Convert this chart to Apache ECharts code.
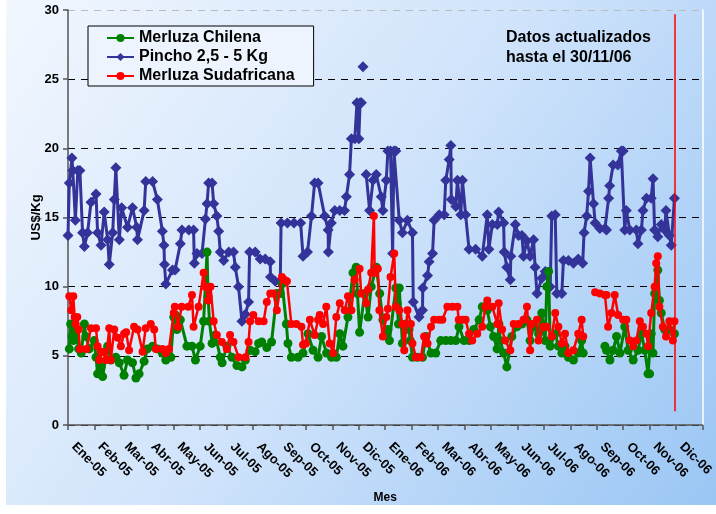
<!DOCTYPE html>
<html>
<head>
<meta charset="utf-8">
<script src="https://cdn.jsdelivr.net/npm/echarts@6/dist/echarts.min.js"></script>
<style>
html,body{margin:0;padding:0;background:#fff;}
#chart{width:716px;height:514px;}
</style>
</head>
<body>
<div id="chart"></div>
<script>
// x values are months counted from 1 Jan 2005 (0 = Ene-05)
const monthLabels = ['Ene-05','Feb-05','Mar-05','Abr-05','May-05','Jun-05','Jul-05','Ago-05','Sep-05','Oct-05','Nov-05','Dic-05',
  'Ene-06','Feb-06','Mar-06','Abr-06','May-06','Jun-06','Jul-06','Ago-06','Sep-06','Oct-06','Nov-06','Dic-06'];
const yTicks = [0, 5, 10, 15, 20, 25, 30];

const merluzaChilena = [[0.05,5.5],[0.1,7.3],[0.15,6.4],[0.2,6.1],[0.3,6.9],[0.4,5.5],[0.5,5.2],[0.62,7.3],[0.68,6.4],[0.8,5.5],[0.99,6.1],[1.06,4.9],[1.12,3.7],[1.25,4.2],[1.31,3.5],[1.5,5.7],[1.62,4.7],[1.81,4.9],[1.94,4.5],[2.12,3.6],[2.25,4.7],[2.44,4.5],[2.57,3.4],[2.69,3.7],[2.88,4.6],[3.0,5.5],[3.2,5.7],[3.38,5.5],[3.57,5.2],[3.7,4.7],[3.89,4.9],[4.0,7.8],[4.06,7.95],[4.12,6.9],[4.25,7.6],[4.5,5.7],[4.69,5.7],[4.82,4.7],[5.0,5.7],[5.13,7.5],[5.26,12.5],[5.3,9.3],[5.35,7.5],[5.45,5.9],[5.57,6.5],[5.76,4.9],[5.83,4.5],[6.01,5.7],[6.2,4.9],[6.39,4.3],[6.58,4.2],[6.71,4.7],[6.89,5.4],[7.08,5.3],[7.21,5.9],[7.33,6.0],[7.52,5.6],[7.7,6.0],[7.9,9.5],[8.03,9.5],[8.1,10.2],[8.26,7.3],[8.32,5.9],[8.45,4.9],[8.7,4.9],[8.89,5.2],[9.08,6.6],[9.27,5.4],[9.46,4.9],[9.59,6.4],[9.78,5.2],[9.97,4.9],[10.15,4.9],[10.28,6.6],[10.4,5.7],[10.59,7.8],[10.78,11.0],[10.9,11.4],[10.95,9.5],[11.03,6.7],[11.22,9.5],[11.35,7.8],[11.47,10.0],[11.66,11.4],[11.79,9.5],[11.91,7.6],[12.04,6.6],[12.1,6.9],[12.16,6.1],[12.4,9.9],[12.45,8.8],[12.5,7.3],[12.53,9.9],[12.65,5.9],[12.78,7.3],[12.9,6.9],[12.95,6.1],[13.03,4.9],[13.22,4.9],[13.41,4.9],[13.54,6.4],[13.73,5.2],[13.91,5.2],[14.1,6.1],[14.29,6.1],[14.48,6.1],[14.67,6.1],[14.79,7.1],[14.98,6.1],[15.17,6.1],[15.35,6.9],[15.55,7.6],[15.67,8.55],[15.86,8.3],[15.98,7.1],[16.1,6.4],[16.23,5.5],[16.3,7.3],[16.35,6.1],[16.48,5.2],[16.6,4.2],[16.79,6.4],[16.98,7.1],[17.17,7.3],[17.36,7.6],[17.48,6.1],[17.61,7.1],[17.8,6.6],[17.92,8.1],[18.05,6.1],[18.11,10.0],[18.18,11.1],[18.24,5.7],[18.43,6.6],[18.55,5.7],[18.68,5.2],[18.8,5.7],[18.93,4.9],[19.12,4.7],[19.3,5.2],[19.43,6.1],[19.49,5.2],[19.8,null],[20.31,5.7],[20.37,5.4],[20.5,4.7],[20.62,5.4],[20.75,6.4],[20.88,5.2],[21.06,7.1],[21.19,5.4],[21.38,4.7],[21.56,5.4],[21.69,6.6],[21.82,5.4],[21.94,3.7],[22.0,3.7],[22.06,6.6],[22.13,5.2],[22.19,9.5],[22.31,11.2],[22.37,9.0],[22.44,8.1],[22.57,6.9],[22.75,6.9],[22.94,6.6]];

const pincho = [[0.0,13.7],[0.05,17.5],[0.15,19.3],[0.18,18.4],[0.28,14.8],[0.37,18.4],[0.45,18.4],[0.55,13.9],[0.62,12.9],[0.74,13.9],[0.87,16.1],[1.06,16.7],[1.12,13.9],[1.25,13.0],[1.37,15.4],[1.5,13.4],[1.56,11.6],[1.69,13.9],[1.75,16.3],[1.81,18.6],[1.94,13.4],[2.03,15.7],[2.25,14.3],[2.44,15.7],[2.6,14.3],[2.63,13.4],[2.88,15.5],[2.94,17.6],[3.2,17.6],[3.38,16.3],[3.57,14.0],[3.63,13.0],[3.65,11.6],[3.7,10.2],[3.95,11.2],[4.05,11.2],[4.25,13.1],[4.31,14.1],[4.57,14.1],[4.75,14.1],[4.78,11.7],[4.88,12.4],[5.07,12.4],[5.2,14.9],[5.26,16.0],[5.32,17.5],[5.45,17.5],[5.51,16.0],[5.63,15.1],[5.7,14.0],[5.76,12.5],[5.89,11.9],[6.08,12.5],[6.26,12.5],[6.33,11.4],[6.45,10.0],[6.58,7.5],[6.71,8.0],[6.83,8.9],[6.87,12.5],[7.08,12.5],[7.27,12.0],[7.46,12.0],[7.65,11.8],[7.66,10.7],[7.84,10.4],[8.03,10.4],[8.06,14.6],[8.3,14.6],[8.55,14.6],[8.8,14.6],[8.89,12.2],[9.06,12.5],[9.21,15.1],[9.33,17.5],[9.46,17.5],[9.71,15.1],[9.84,14.1],[9.85,12.5],[9.96,14.6],[10.09,15.5],[10.28,15.5],[10.46,15.5],[10.53,16.5],[10.65,18.1],[10.72,20.7],[10.85,20.7],[10.93,23.3],[11.0,20.7],[11.05,23.3],[11.1,23.3],[11.13,null],[11.16,25.9],[11.2,null],[11.28,18.1],[11.41,15.5],[11.54,17.7],[11.66,18.1],[11.85,16.5],[11.91,15.5],[12.04,17.7],[12.1,19.8],[12.2,19.8],[12.28,12.4],[12.33,19.8],[12.4,19.8],[12.53,14.8],[12.65,13.9],[12.84,14.8],[13.03,13.9],[13.06,8.9],[13.28,7.8],[13.41,8.3],[13.42,9.9],[13.6,10.8],[13.66,11.8],[13.79,12.4],[13.85,14.8],[14.04,15.2],[14.23,15.2],[14.29,17.7],[14.42,19.2],[14.48,20.2],[14.5,16.3],[14.67,15.8],[14.73,17.7],[14.86,15.2],[14.92,17.7],[15.04,15.2],[15.17,12.7],[15.42,12.7],[15.67,12.2],[15.86,15.2],[15.92,12.7],[16.05,14.5],[16.24,14.5],[16.29,15.4],[16.48,14.6],[16.5,12.5],[16.6,11.4],[16.73,10.5],[16.75,12.2],[16.92,14.5],[17.04,13.7],[17.17,13.7],[17.23,12.2],[17.36,13.3],[17.48,12.2],[17.61,13.4],[17.67,11.4],[17.74,9.5],[17.92,10.6],[18.05,11.1],[18.24,10.0],[18.3,15.1],[18.43,15.2],[18.49,9.5],[18.68,9.5],[18.74,11.9],[18.93,11.9],[19.12,11.7],[19.3,12.0],[19.47,11.7],[19.52,13.9],[19.62,15.1],[19.69,16.9],[19.75,19.3],[19.88,16.0],[19.94,14.6],[20.12,14.2],[20.31,14.2],[20.37,14.1],[20.45,16.4],[20.49,17.3],[20.62,18.8],[20.8,18.8],[20.93,19.8],[21.0,19.8],[21.06,14.1],[21.12,15.5],[21.25,14.1],[21.5,14.1],[21.56,13.1],[21.69,14.1],[21.75,15.5],[21.88,16.4],[22.06,16.4],[22.13,17.8],[22.19,14.1],[22.31,13.6],[22.44,14.5],[22.57,14.1],[22.62,15.5],[22.75,13.7],[22.82,13.0],[22.94,16.4]];

const merluzaSudafricana = [[0.05,9.3],[0.12,8.3],[0.2,9.3],[0.25,7.8],[0.29,7.3],[0.35,7.8],[0.4,6.9],[0.45,5.5],[0.7,5.5],[0.87,7.0],[1.06,7.0],[1.12,5.7],[1.18,4.7],[1.31,5.3],[1.44,4.7],[1.56,7.0],[1.62,4.7],[1.75,6.9],[1.88,6.3],[2.0,5.7],[2.12,6.6],[2.2,6.7],[2.31,5.4],[2.5,7.1],[2.63,6.9],[2.82,5.3],[2.94,7.0],[3.13,7.3],[3.26,6.9],[3.32,5.5],[3.57,5.5],[3.7,5.2],[3.82,5.5],[4.0,8.1],[4.04,8.55],[4.16,7.1],[4.3,8.55],[4.55,8.55],[4.69,9.4],[4.75,7.1],[4.94,8.55],[5.13,11.0],[5.2,10.0],[5.3,9.0],[5.39,10.0],[5.51,7.5],[5.63,6.5],[5.82,6.0],[6.01,5.5],[6.13,6.5],[6.26,6.0],[6.45,4.9],[6.71,4.9],[6.83,6.0],[6.89,7.5],[7.01,7.95],[7.21,7.5],[7.4,7.5],[7.52,8.9],[7.65,9.5],[7.77,9.5],[7.9,8.3],[8.09,10.7],[8.18,10.5],[8.28,10.4],[8.45,7.3],[8.64,7.3],[8.83,7.1],[8.89,5.8],[9.0,5.9],[9.15,7.6],[9.33,6.5],[9.46,7.6],[9.52,7.95],[9.65,7.3],[9.77,8.55],[9.9,5.9],[10.03,5.2],[10.15,7.8],[10.28,8.8],[10.47,8.3],[10.59,9.3],[10.72,8.3],[10.84,10.5],[11.03,11.3],[11.09,9.5],[11.28,8.8],[11.35,9.8],[11.47,11.0],[11.57,15.1],[11.6,11.0],[11.72,11.3],[11.78,8.3],[11.91,6.4],[12.04,7.8],[12.1,8.4],[12.2,10.7],[12.34,12.4],[12.4,8.55],[12.53,8.3],[12.65,7.3],[12.72,5.4],[12.84,8.3],[12.97,7.3],[13.03,5.9],[13.16,4.9],[13.35,4.9],[13.47,6.4],[13.6,5.9],[13.73,7.1],[13.85,7.6],[14.04,7.6],[14.16,7.6],[14.35,8.55],[14.54,8.55],[14.73,8.55],[14.78,7.6],[14.92,7.6],[15.04,7.6],[15.17,6.6],[15.29,6.1],[15.48,6.6],[15.67,7.1],[15.79,8.55],[15.86,9.0],[16.05,8.55],[16.24,7.3],[16.29,8.8],[16.42,6.9],[16.54,6.1],[16.73,5.4],[16.86,7.3],[17.04,7.3],[17.23,7.6],[17.36,8.55],[17.48,5.4],[17.54,7.3],[17.74,7.6],[17.8,6.1],[17.99,7.1],[18.11,7.1],[18.3,6.4],[18.43,8.1],[18.55,7.1],[18.68,5.9],[18.8,6.6],[18.93,5.2],[19.12,5.4],[19.3,6.6],[19.43,7.6],[19.49,6.4],[19.7,null],[19.94,9.6],[20.12,9.5],[20.31,9.4],[20.37,9.4],[20.43,7.1],[20.56,8.1],[20.68,9.4],[20.81,7.95],[21.0,7.6],[21.12,7.6],[21.25,6.1],[21.38,5.7],[21.5,6.1],[21.63,7.5],[21.75,7.1],[21.88,6.6],[21.94,5.7],[22.06,8.1],[22.19,10.0],[22.25,11.7],[22.31,12.2],[22.37,8.55],[22.5,7.1],[22.62,6.4],[22.75,7.5],[22.88,6.1],[22.94,7.5]];

// vertical "data until" marker (30/11/06)
const cutoffMonth = 22.94;
const cutoffRange = [1, 29.7];
const noteText = 'Datos actualizados\nhasta el 30/11/06';

const FONT = 'Liberation Sans, Arial, sans-serif';
const chart = echarts.init(document.getElementById('chart'), null, {renderer: 'canvas'});

chart.setOption({
  animation: false,
  backgroundColor: '#ffffff',
  graphic: [
    {
      type: 'rect', z: -100, silent: true,
      left: 6, top: 0,
      shape: {width: 710, height: 505},
      style: {
        fill: new echarts.graphic.LinearGradient(0, 0, 1, 1, [
          {offset: 0, color: '#f2f7fe'},
          {offset: 0.5, color: '#cfe3fb'},
          {offset: 1, color: '#9ac6f4'}
        ])
      }
    },
    {
      type: 'text', left: 506, top: 28, z: 10,
      style: {text: noteText, font: 'bold 16px ' + FONT, fill: '#000', lineHeight: 20}
    }
  ],
  legend: {
    left: 88, top: 26,
    orient: 'vertical',
    itemWidth: 27, itemHeight: 10, itemGap: 3,
    padding: [4, 19, 2, 18],
    borderColor: '#000', borderWidth: 1,
    backgroundColor: '#edf4fd',
    textStyle: {fontFamily: FONT, fontWeight: 'bold', fontSize: 16, color: '#000'},
    data: ['Merluza Chilena', 'Pincho 2,5 - 5 Kg', 'Merluza Sudafricana']
  },
  grid: {left: 68, right: 12, top: 10, bottom: 89, containLabel: false},
  xAxis: {
    type: 'value', min: 0, max: 24, interval: 1,
    name: 'Mes', nameLocation: 'middle', nameGap: 67,
    nameTextStyle: {fontFamily: FONT, fontWeight: 'bold', fontSize: 12, color: '#000'},
    axisLine: {show: true, lineStyle: {color: '#555', width: 1.5}},
    axisTick: {show: true, length: 5, lineStyle: {color: '#555', width: 1.5}},
    axisLabel: {
      rotate: -45, margin: 14, padding: [0, 0, 0, 8], showMaxLabel: true, showMinLabel: true,
      fontFamily: FONT, fontWeight: 'bold', fontSize: 13, color: '#000',
      formatter: v => monthLabels[v] !== undefined ? monthLabels[v] : ''
    },
    splitLine: {show: false}
  },
  yAxis: [
    {
      type: 'value', min: yTicks[0], max: yTicks[yTicks.length - 1], interval: yTicks[1] - yTicks[0],
      name: 'US$/Kg', nameLocation: 'middle', nameGap: 25, nameMoveOverlap: false,
      nameTextStyle: {fontFamily: FONT, fontWeight: 'bold', fontSize: 13, color: '#000'},
      axisLine: {show: true, lineStyle: {color: '#555', width: 1.5}},
      axisTick: {show: true, length: 5, lineStyle: {color: '#555', width: 1.5}},
      axisLabel: {margin: 9, fontFamily: FONT, fontWeight: 'bold', fontSize: 13, color: '#000'},
      splitLine: {show: true, lineStyle: {color: ['#000', '#000', '#000', '#000', '#000', '#000', '#bbbbbb'], width: 1, type: [7, 6]}}
    },
    {
      type: 'value', position: 'right', min: yTicks[0], max: yTicks[yTicks.length - 1],
      axisLine: {show: true, lineStyle: {color: '#ffffff', width: 1.5}},
      axisTick: {show: false}, axisLabel: {show: false}, splitLine: {show: false}
    }
  ],
  series: [
    {
      name: 'Merluza Chilena', type: 'line', data: merluzaChilena, connectNulls: false,
      symbol: 'circle', symbolSize: 9, showSymbol: true, showAllSymbol: true,
      color: '#008000',
      lineStyle: {color: '#008000', width: 3},
      itemStyle: {color: '#008000'},
      emphasis: {disabled: true}, z: 3
    },
    {
      name: 'Pincho 2,5 - 5 Kg', type: 'line', data: pincho, connectNulls: false,
      symbol: 'diamond', symbolSize: 11, showSymbol: true, showAllSymbol: true,
      color: '#333399',
      lineStyle: {color: '#333399', width: 3},
      itemStyle: {color: '#333399'},
      emphasis: {disabled: true}, z: 2
    },
    {
      name: 'Merluza Sudafricana', type: 'line', data: merluzaSudafricana, connectNulls: false,
      symbol: 'circle', symbolSize: 8, showSymbol: true, showAllSymbol: true,
      color: '#ff0000',
      lineStyle: {color: '#ff0000', width: 2.5},
      itemStyle: {color: '#ff0000'},
      emphasis: {disabled: true}, z: 4,
      markLine: {
        silent: true, symbol: ['none', 'none'], label: {show: false},
        lineStyle: {color: '#ff0000', width: 1.5, type: 'solid'},
        data: [[{coord: [cutoffMonth, cutoffRange[0]]}, {coord: [cutoffMonth, cutoffRange[1]]}]]
      }
    }
  ]
});
</script>
</body>
</html>
